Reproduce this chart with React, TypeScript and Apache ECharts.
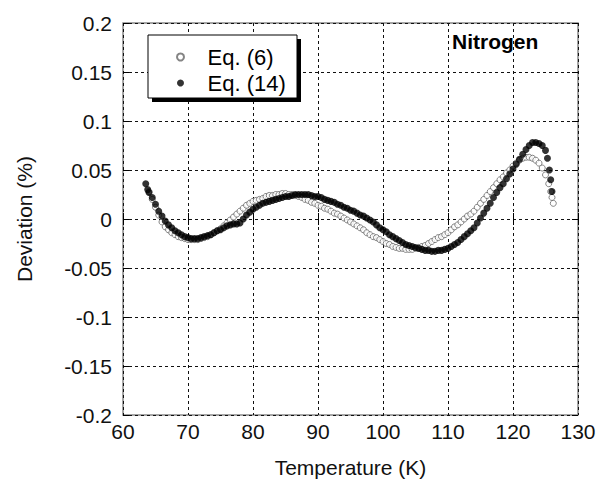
import React, { useEffect, useRef } from "react";
import * as echarts from "echarts";

// Eq. (6) — open circles: [Temperature (K), Deviation (%)]
const eq6Data: [number, number][] = [
  [64.0, 0.028], [64.5, 0.020], [65.0, 0.012], [65.5, 0.004], [66.0, -0.003], [66.5, -0.008],
  [67.0, -0.011], [67.5, -0.014], [68.0, -0.016], [68.5, -0.018], [69.0, -0.019], [69.5, -0.020],
  [70.0, -0.021], [70.5, -0.021], [71.0, -0.021], [71.5, -0.021], [72.0, -0.020], [72.5, -0.019],
  [73.0, -0.018], [73.5, -0.016], [74.0, -0.014], [74.5, -0.012], [75.0, -0.010], [75.5, -0.007],
  [76.0, -0.004], [76.5, -0.001], [77.0, 0.002], [77.5, 0.005], [78.0, 0.008], [78.5, 0.011],
  [79.0, 0.014], [79.5, 0.016], [80.0, 0.018], [80.5, 0.019], [81.0, 0.020], [81.5, 0.021],
  [82.0, 0.023], [82.5, 0.024], [83.0, 0.024], [83.5, 0.025], [84.0, 0.025], [84.5, 0.026],
  [85.0, 0.026], [85.5, 0.025], [86.0, 0.025], [86.5, 0.024], [87.0, 0.023], [87.5, 0.022],
  [88.0, 0.020], [88.5, 0.019], [89.0, 0.017], [89.5, 0.016], [90.0, 0.014], [90.5, 0.013],
  [91.0, 0.011], [91.5, 0.010], [92.0, 0.008], [92.5, 0.006], [93.0, 0.005], [93.5, 0.003],
  [94.0, 0.001], [94.5, -0.001], [95.0, -0.003], [95.5, -0.005], [96.0, -0.007], [96.5, -0.009],
  [97.0, -0.011], [97.5, -0.014], [98.0, -0.016], [98.5, -0.018], [99.0, -0.019], [99.5, -0.021],
  [100.0, -0.023], [100.5, -0.025], [101.0, -0.026], [101.5, -0.028], [102.0, -0.029], [102.5, -0.030],
  [103.0, -0.030], [103.5, -0.031], [104.0, -0.031], [104.5, -0.031], [105.0, -0.030], [105.5, -0.029],
  [106.0, -0.028], [106.5, -0.027], [107.0, -0.025], [107.5, -0.023], [108.0, -0.021], [108.5, -0.019],
  [109.0, -0.018], [109.5, -0.016], [110.0, -0.014], [110.5, -0.011], [111.0, -0.008], [111.5, -0.006],
  [112.0, -0.003], [112.5, 0.000], [113.0, 0.003], [113.5, 0.005], [114.0, 0.008], [114.5, 0.012],
  [115.0, 0.016], [115.5, 0.020], [116.0, 0.024], [116.5, 0.028], [117.0, 0.032], [117.5, 0.036],
  [118.0, 0.040], [118.5, 0.043], [119.0, 0.047], [119.5, 0.050], [120.0, 0.054], [120.5, 0.057],
  [121.0, 0.060], [121.5, 0.062], [122.0, 0.063], [122.5, 0.063], [123.0, 0.062], [123.5, 0.060],
  [124.0, 0.057], [124.5, 0.052], [125.0, 0.045], [125.5, 0.036], [125.8, 0.028], [126.0, 0.022],
  [126.2, 0.016],
];

// Eq. (14) — filled circles: [Temperature (K), Deviation (%)]
const eq14Data: [number, number][] = [
  [63.5, 0.036], [63.8, 0.030], [64.0, 0.027], [64.5, 0.022], [65.0, 0.015], [65.5, 0.008],
  [66.0, 0.003], [66.5, -0.002], [67.0, -0.006], [67.5, -0.009], [68.0, -0.012], [68.5, -0.014],
  [69.0, -0.016], [69.5, -0.018], [70.0, -0.019], [70.5, -0.020], [71.0, -0.020], [71.5, -0.020],
  [72.0, -0.019], [72.5, -0.018], [73.0, -0.017], [73.5, -0.016], [74.0, -0.014], [74.5, -0.012],
  [75.0, -0.011], [75.5, -0.009], [76.0, -0.007], [76.5, -0.006], [77.0, -0.005], [77.5, -0.005],
  [78.0, -0.004], [78.5, 0.000], [79.0, 0.004], [79.5, 0.007], [80.0, 0.010], [80.5, 0.012],
  [81.0, 0.014], [81.5, 0.016], [82.0, 0.017], [82.5, 0.018], [83.0, 0.019], [83.5, 0.020],
  [84.0, 0.021], [84.5, 0.022], [85.0, 0.023], [85.5, 0.023], [86.0, 0.024], [86.5, 0.025],
  [87.0, 0.025], [87.5, 0.025], [88.0, 0.025], [88.5, 0.025], [89.0, 0.024], [89.5, 0.023],
  [90.0, 0.023], [90.5, 0.022], [91.0, 0.020], [91.5, 0.019], [92.0, 0.018], [92.5, 0.017],
  [93.0, 0.015], [93.5, 0.014], [94.0, 0.012], [94.5, 0.011], [95.0, 0.009], [95.5, 0.008],
  [96.0, 0.006], [96.5, 0.004], [97.0, 0.003], [97.5, 0.001], [98.0, -0.001], [98.5, -0.003],
  [99.0, -0.006], [99.5, -0.009], [100.0, -0.011], [100.5, -0.013], [101.0, -0.016], [101.5, -0.018],
  [102.0, -0.020], [102.5, -0.022], [103.0, -0.024], [103.5, -0.026], [104.0, -0.027], [104.5, -0.028],
  [105.0, -0.029], [105.5, -0.030], [106.0, -0.031], [106.5, -0.032], [107.0, -0.032], [107.5, -0.033],
  [108.0, -0.033], [108.5, -0.032], [109.0, -0.032], [109.5, -0.031], [110.0, -0.030], [110.5, -0.028],
  [111.0, -0.026], [111.5, -0.024], [112.0, -0.021], [112.5, -0.018], [113.0, -0.015], [113.5, -0.012],
  [114.0, -0.009], [114.5, -0.004], [115.0, 0.001], [115.5, 0.006], [116.0, 0.011], [116.5, 0.016],
  [117.0, 0.022], [117.5, 0.027], [118.0, 0.032], [118.5, 0.036], [119.0, 0.041], [119.5, 0.046],
  [120.0, 0.051], [120.5, 0.056], [121.0, 0.061], [121.5, 0.066], [122.0, 0.071], [122.5, 0.075],
  [123.0, 0.078], [123.5, 0.078], [124.0, 0.077], [124.5, 0.075], [125.0, 0.070], [125.3, 0.062],
  [125.6, 0.050], [125.8, 0.040], [126.0, 0.028],
];

const seriesNames = ["Eq. (6)", "Eq. (14)"];
const xTicks = { min: 60, max: 130, interval: 10 };
const yTicks = { min: -0.2, max: 0.2, interval: 0.05 };
const xTitle = "Temperature (K)";
const yTitle = "Deviation (%)";
const gasLabel = "Nitrogen";

const FONT = "'Liberation Sans', Arial, Helvetica, sans-serif";

export default function App() {
  const ref = useRef<HTMLDivElement>(null);

  useEffect(() => {
    if (!ref.current) return;
    const chart = echarts.init(ref.current, null, { renderer: "svg" });
    const splitLine = {
      show: true,
      lineStyle: { color: "#111", width: 1, type: [3, 3] as number[] },
    };
    const tick = { show: true, inside: true, length: 6, lineStyle: { color: "#000", width: 1 } };
    const fmtY = (v: number) => String(Math.round(v * 100) / 100);

    chart.setOption({
      animation: false,
      backgroundColor: "#fff",
      title: {
        text: gasLabel,
        left: 452,
        top: 31,
        padding: 0,
        textStyle: { fontFamily: FONT, fontSize: 21, fontWeight: "bold", color: "#000" },
      },
      graphic: [
        {
          type: "rect",
          z: 3,
          shape: { x: 152, y: 39, width: 149, height: 63 },
          style: { fill: "#000" },
        },
        {
          type: "rect",
          z: 3,
          shape: { x: 148, y: 35, width: 149, height: 63 },
          style: { fill: "#fff", stroke: "#000", lineWidth: 1 },
        },
      ],
      legend: {
        orient: "vertical",
        left: 176,
        top: 46,
        padding: 0,
        itemGap: 4,
        itemWidth: 44,
        itemHeight: 7,
        z: 5,
        data: seriesNames,
        textStyle: { fontFamily: FONT, fontSize: 22, color: "#000" },
      },
      grid: {
        left: 123,
        top: 23,
        right: 28,
        bottom: 69,
        show: true,
        borderColor: "#888",
        borderWidth: 1.5,
        backgroundColor: "transparent",
      },
      xAxis: [
        {
          type: "value",
          min: xTicks.min,
          max: xTicks.max,
          interval: xTicks.interval,
          axisLine: { show: false },
          axisTick: tick,
          splitLine,
          axisLabel: { fontFamily: FONT, fontSize: 21, color: "#111", margin: 6 },
          name: xTitle,
          nameLocation: "middle",
          nameGap: 42,
          nameTextStyle: { fontFamily: FONT, fontSize: 21, color: "#111" },
        },
        {
          type: "value",
          position: "top",
          min: xTicks.min,
          max: xTicks.max,
          interval: xTicks.interval,
          axisLine: { show: false },
          axisTick: tick,
          splitLine: { show: false },
          axisLabel: { show: false },
        },
      ],
      yAxis: [
        {
          type: "value",
          min: yTicks.min,
          max: yTicks.max,
          interval: yTicks.interval,
          axisLine: { show: false },
          axisTick: tick,
          splitLine,
          axisLabel: { fontFamily: FONT, fontSize: 21, color: "#111", margin: 11, formatter: fmtY },
          name: yTitle,
          nameLocation: "middle",
          nameGap: 88,
          nameTextStyle: { fontFamily: FONT, fontSize: 21, color: "#111" },
        },
        {
          type: "value",
          position: "right",
          min: yTicks.min,
          max: yTicks.max,
          interval: yTicks.interval,
          axisLine: { show: false },
          axisTick: tick,
          splitLine: { show: false },
          axisLabel: { show: false },
        },
      ],
      series: [
        {
          name: seriesNames[0],
          type: "scatter",
          data: eq6Data,
          symbol: "circle",
          symbolSize: 6,
          itemStyle: { color: "#fff", borderColor: "#666", borderWidth: 1 },
          z: 2,
        },
        {
          name: seriesNames[1],
          type: "scatter",
          data: eq14Data,
          symbol: "circle",
          symbolSize: 7,
          itemStyle: { color: "#000", borderColor: "#000", borderWidth: 0 },
          z: 2,
        },
      ],
    });
    return () => chart.dispose();
  }, []);

  return (
    <div
      ref={ref}
      style={{ position: "fixed", left: 0, top: 0, width: 606, height: 484, background: "#fff" }}
    />
  );
}
